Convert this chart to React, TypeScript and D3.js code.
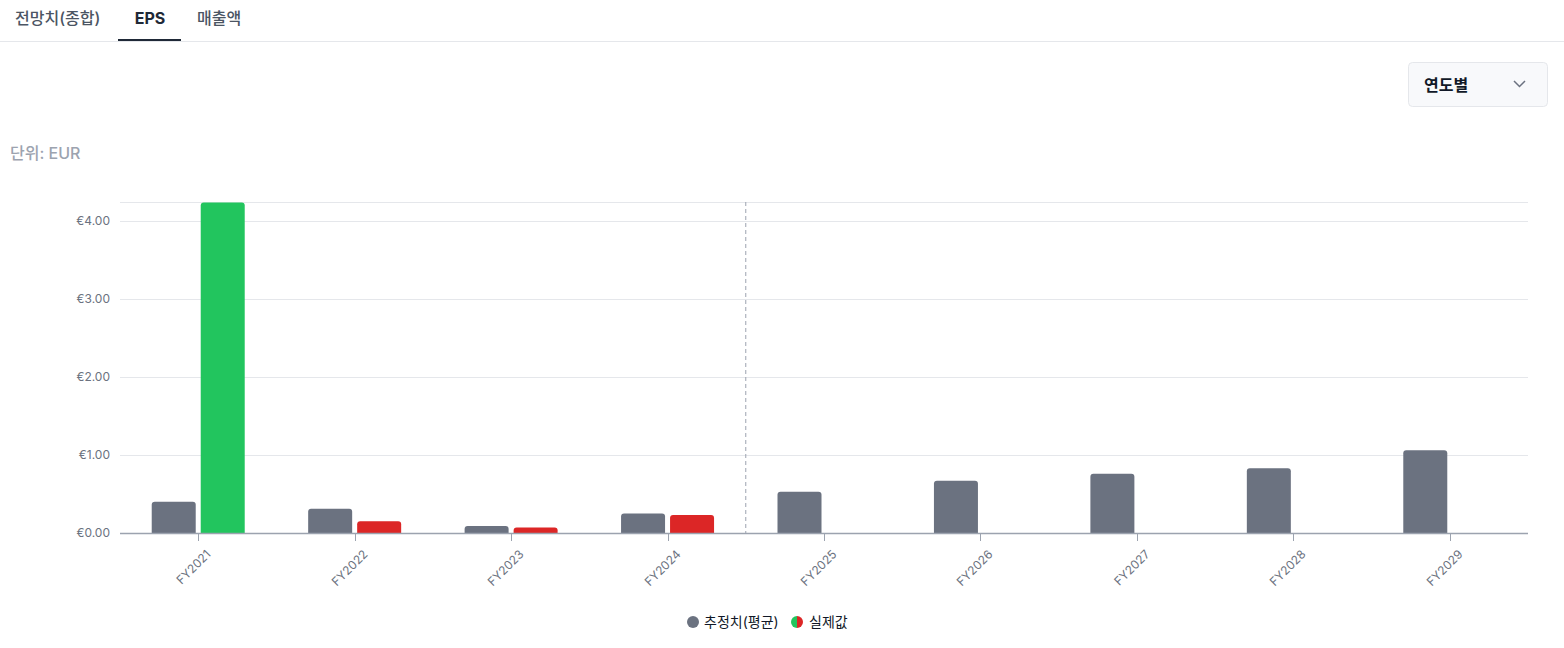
import React from "react";
import * as d3 from "d3";

const categories = ["FY2021", "FY2022", "FY2023", "FY2024", "FY2025", "FY2026", "FY2027", "FY2028", "FY2029"];
const estimateValues = [0.40, 0.31, 0.09, 0.25, 0.53, 0.67, 0.76, 0.83, 1.06];
const actualValues: (number | null)[] = [4.24, 0.15, 0.07, 0.23, null, null, null, null, null];
const estimateBeats = [true, false, false, false];
const yTicks = [0, 1, 2, 3, 4];
const tabs = ["전망치(종합)", "EPS", "매출액"];
const legendLabels = ["추정치(평균)", "실제값"];

const W = 1564, H = 648;
const M = { left: 120, right: 1528, top: 202, bottom: 533 };
const FONT = "Inter, 'Noto Sans CJK KR', sans-serif";
const GRAY = "#6b7280", GREEN = "#22c55e", RED = "#dc2626";

function topRounded(x: number, y: number, w: number, h: number, r: number) {
  const rr = Math.min(r, h, w / 2);
  return `M${x},${y + h}V${y + rr}Q${x},${y} ${x + rr},${y}H${x + w - rr}Q${x + w},${y} ${x + w},${y + rr}V${y + h}Z`;
}

export default function App() {
  const x = d3.scaleBand<string>().domain(categories).range([M.left, M.right]).paddingInner(0).paddingOuter(0);
  const y = d3.scaleLinear().domain([0, 4.245]).range([M.bottom, M.top]);
  const bw = 44, gap = 5;
  const splitX = (x("FY2024")! + x.bandwidth() + x("FY2025")!) / 2;

  return (
    <svg width={W} height={H} style={{ position: "absolute", left: 0, top: 0, fontFamily: FONT }}>
      <rect width={W} height={H} fill="#fff" />
      {/* tabs */}
      <line x1={0} x2={W} y1={41.5} y2={41.5} stroke="#e5e7eb" />
      <text x={15} y={24} fontSize={16} fontWeight={500} fill="#4b5563">{tabs[0]}</text>
      <text x={150} y={24} fontSize={16} fontWeight={700} fill="#1f2937" textAnchor="middle">{tabs[1]}</text>
      <rect x={118} y={39} width={63} height={2} fill="#1f2937" />
      <text x={197} y={24} fontSize={16} fontWeight={500} fill="#4b5563">{tabs[2]}</text>
      {/* dropdown */}
      <rect x={1408.5} y={62.5} width={139} height={44} rx={4} fill="#f8f9fb" stroke="#e5e7eb" />
      <text x={1424} y={91} fontSize={16} fontWeight={600} fill="#111827">연도별</text>
      <path d="M1514,81 L1519.5,86.5 L1525,81" fill="none" stroke="#6b7280" strokeWidth={1.5} />
      {/* unit */}
      <text x={10} y={159} fontSize={16} fontWeight={500} fill="#9ca3af">단위: EUR</text>
      {/* grid */}
      <line x1={M.left} x2={M.right} y1={M.top + 0.5} y2={M.top + 0.5} stroke="#e5e7eb" />
      {yTicks.map(t => (
        <g key={t}>
          {t > 0 && <line x1={M.left} x2={M.right} y1={Math.round(y(t)) + 0.5} y2={Math.round(y(t)) + 0.5} stroke="#e5e7eb" />}
          <text x={110} y={y(t) + 4} fontSize={12} fill="#6b7280" textAnchor="end">{d3.format("$.2f")(t).replace("$", "€")}</text>
        </g>
      ))}
      {/* bars */}
      {categories.map((c, i) => {
        const cx = x(c)! + x.bandwidth() / 2;
        const ev = estimateValues[i];
        const av = actualValues[i];
        return (
          <g key={c}>
            <path d={topRounded(cx - gap / 2 - bw, y(ev), bw, y(0) - y(ev), 3)} fill={GRAY} />
            {av != null && (
              <path d={topRounded(cx + gap / 2, y(av), bw, y(0) - y(av), 3)} fill={estimateBeats[i] ? GREEN : RED} />
            )}
          </g>
        );
      })}
      {/* split line */}
      <line x1={splitX} x2={splitX} y1={M.top} y2={M.bottom} stroke="#9ca3af" strokeDasharray="4,3" />
      {/* axis */}
      <line x1={M.left} x2={M.right} y1={M.bottom + 0.5} y2={M.bottom + 0.5} stroke="#9ca3af" strokeWidth={1.5} />
      {categories.map(c => {
        const cx = Math.round(x(c)! + x.bandwidth() / 2) + 0.5;
        return (
          <g key={c}>
            <line x1={cx} x2={cx} y1={M.bottom} y2={M.bottom + 8} stroke="#9ca3af" />
            <text transform={`translate(${cx + 13},${M.bottom + 22}) rotate(-45)`} fontSize={12} fill="#6b7280" textAnchor="end">{c}</text>
          </g>
        );
      })}
      {/* legend */}
      <circle cx={693} cy={622} r={6} fill={GRAY} />
      <text x={704} y={627} fontSize={14} fill="#111827">{legendLabels[0]}</text>
      <path d="M797,616 A6,6 0 0 0 797,628 Z" fill={GREEN} />
      <path d="M797,616 A6,6 0 0 1 797,628 Z" fill={RED} />
      <text x={809} y={627} fontSize={14} fill="#111827">{legendLabels[1]}</text>
    </svg>
  );
}
